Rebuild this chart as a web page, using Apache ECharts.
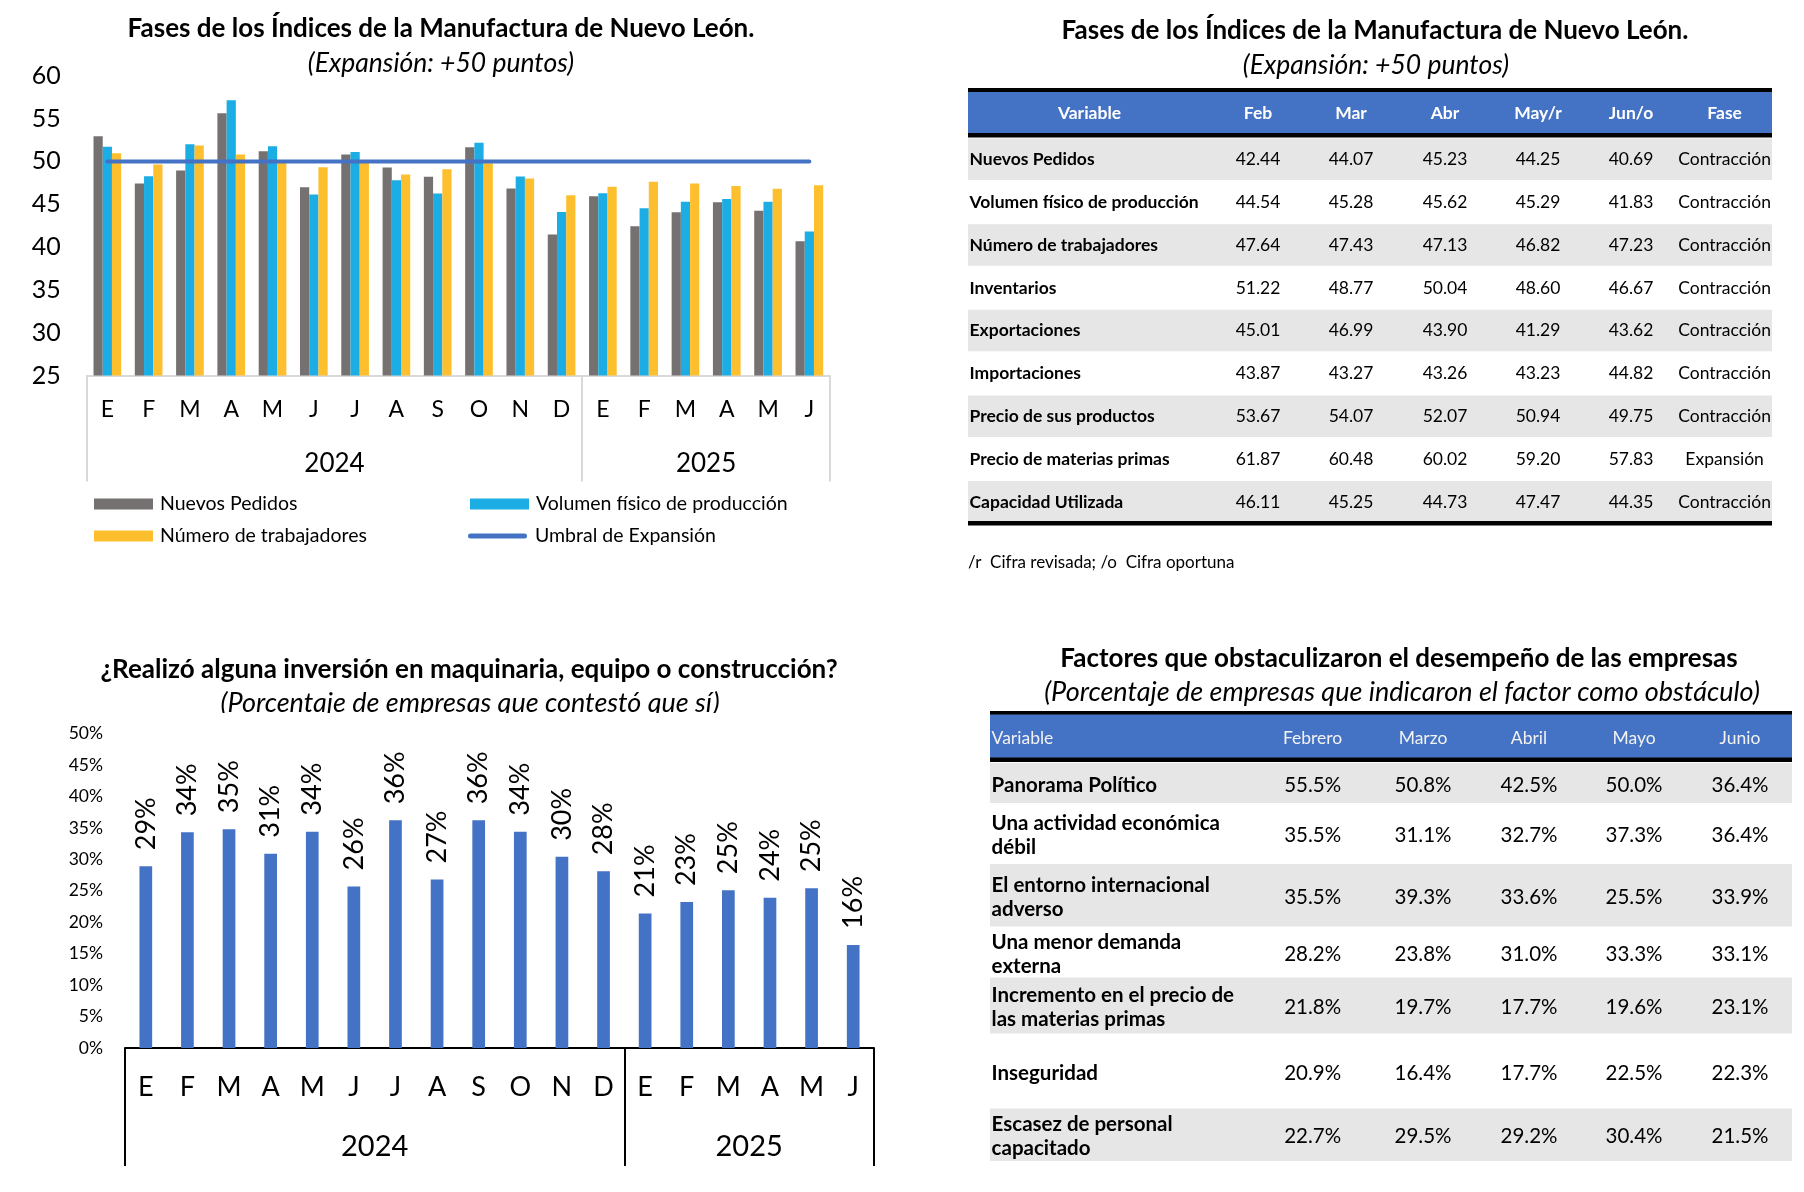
<!DOCTYPE html>
<html>
<head>
<meta charset="utf-8">
<script src="https://cdn.jsdelivr.net/npm/echarts@6/dist/echarts.min.js"></script>
<style>html,body{margin:0;padding:0;background:#fff}#c{width:1804px;height:1192px}</style>
</head>
<body>
<div id="c"></div>
<script>
// ---------- DATA ----------
const months = ['E','F','M','A','M','J','J','A','S','O','N','D','E','F','M','A','M','J'];
const years = ['2024','2025'];
const yearTickValues = [0, 12, 18];
const yearLabelValues = [6, 15];
const nuevosPedidos   = [52.94,47.42,48.94,55.63,51.19,46.99,50.80,49.29,48.20,51.66,46.84,41.47,45.94,42.44,44.07,45.23,44.25,40.69];
const volumenFisico   = [51.70,48.28,52.00,57.14,51.77,46.14,51.10,47.81,46.26,52.17,48.24,44.08,46.29,44.54,45.28,45.62,45.29,41.83];
const numTrabajadores = [50.96,49.64,51.85,50.80,49.90,49.33,49.90,48.47,49.09,49.80,48.00,46.06,47.03,47.64,47.43,47.13,46.82,47.23];
const umbralExpansion = [50,50,50,50,50,50,50,50,50,50,50,50,50,50,50,50,50,50];
const inversion = [28.9,34.3,34.8,30.9,34.4,25.7,36.2,26.8,36.2,34.4,30.4,28.1,21.4,23.2,25.1,23.9,25.4,16.4];

const t2Header = ['Variable','Feb','Mar','Abr','May/r','Jun/o','Fase'];
const t2Vars = ['Nuevos Pedidos','Volumen físico de producción','Número de trabajadores','Inventarios','Exportaciones','Importaciones','Precio de sus productos','Precio de materias primas','Capacidad Utilizada'];
const t2Values = [
  [42.44,44.07,45.23,44.25,40.69],
  [44.54,45.28,45.62,45.29,41.83],
  [47.64,47.43,47.13,46.82,47.23],
  [51.22,48.77,50.04,48.60,46.67],
  [45.01,46.99,43.90,41.29,43.62],
  [43.87,43.27,43.26,43.23,44.82],
  [53.67,54.07,52.07,50.94,49.75],
  [61.87,60.48,60.02,59.20,57.83],
  [46.11,45.25,44.73,47.47,44.35]
];
const t2Fase = ['Contracción','Contracción','Contracción','Contracción','Contracción','Contracción','Contracción','Expansión','Contracción'];
const t2Note = '/r  Cifra revisada; /o  Cifra oportuna';

const t4Header = ['Variable','Febrero','Marzo','Abril','Mayo','Junio'];
const t4Vars = ['Panorama Político','Una actividad económica\ndébil','El entorno internacional\nadverso','Una menor demanda\nexterna','Incremento en el precio de\nlas materias primas','Inseguridad','Escasez de personal\ncapacitado'];
const t4Values = [
  [55.5,50.8,42.5,50.0,36.4],
  [35.5,31.1,32.7,37.3,36.4],
  [35.5,39.3,33.6,25.5,33.9],
  [28.2,23.8,31.0,33.3,33.1],
  [21.8,19.7,17.7,19.6,23.1],
  [20.9,16.4,17.7,22.5,22.3],
  [22.7,29.5,29.2,30.4,21.5]
];

// ---------- LAYOUT / STYLE ----------
const FONT = 'Lato';
const BLUE = '#4472C4';
const GRAYBAND = '#E7E6E6';

function txt(x, y, text, size, o) {
  o = o || {};
  const st = {
    text: text, fontSize: size, fontFamily: FONT,
    fontWeight: o.bold ? 'bold' : 'normal',
    fontStyle: o.italic ? 'italic' : 'normal',
    fill: o.color || '#000',
    align: o.align || 'center', verticalAlign: 'middle',
    textAlign: o.align || 'center', textVerticalAlign: 'middle'
  };
  if (o.lineHeight) st.lineHeight = o.lineHeight;
  return { type: 'text', x: x, y: y, z: o.z || 10, silent: true, style: st };
}
function rect(x, y, w, h, fill, z) {
  return { type: 'rect', shape: { x: x, y: y, width: w, height: h }, style: { fill: fill }, z: z || 1, silent: true };
}

const graphics = [];
// Titles
graphics.push(txt(441, 29, 'Fases de los Índices de la Manufactura de Nuevo León.', 26, {bold: true}));
graphics.push(txt(441, 63.5, '(Expansión: +50 puntos)', 26.5, {italic: true}));
graphics.push(txt(1375, 31, 'Fases de los Índices de la Manufactura de Nuevo León.', 26, {bold: true}));
graphics.push(txt(1376, 65.5, '(Expansión: +50 puntos)', 26.5, {italic: true}));
graphics.push(txt(469, 670, '¿Realizó alguna inversión en maquinaria, equipo o construcción?', 26, {bold: true}));
graphics.push(txt(470, 703, '(Porcentaje de empresas que contestó que sí)', 27, {italic: true}));
graphics.push(rect(150, 713, 660, 10, '#fff', 30));
graphics.push(txt(1399, 659, 'Factores que obstaculizaron el desempeño de las empresas', 26, {bold: true}));
graphics.push(txt(1402, 692, '(Porcentaje de empresas que indicaron el factor como obstáculo)', 27, {italic: true}));

// Table 2 (top right)
(function () {
  const x0 = 968, w = 804;
  const colX = [1089.5, 1258, 1351, 1445, 1538, 1631, 1724.6];
  const labelX = 969.5;
  const firstRow = 159.6, rowStep = 42.8;
  graphics.push(rect(x0, 92, w, 41, BLUE, 1));
  graphics.push(rect(x0, 88, w, 4, '#000', 2));
  graphics.push(rect(x0, 133, w, 4.5, '#000', 2));
  t2Header.forEach(function (h, i) {
    graphics.push(txt(colX[i], 113, h, 17.5, {bold: true, color: '#fff'}));
  });
  t2Vars.forEach(function (v, r) {
    const cy = firstRow + r * rowStep;
    if (r % 2 === 0) graphics.push(rect(x0, cy - 21, w, 41.5, GRAYBAND, 1));
    graphics.push(txt(labelX, cy, v, 17.5, {bold: true, align: 'left'}));
    t2Values[r].forEach(function (val, c) {
      graphics.push(txt(colX[c + 1], cy, val.toFixed(2), 17.5));
    });
    graphics.push(txt(colX[6], cy, t2Fase[r], 17.5));
  });
  graphics.push(rect(x0, 521, w, 4.5, '#000', 2));
  graphics.push(txt(968, 563, t2Note, 17, {align: 'left'}));
})();

// Table 4 (bottom right)
(function () {
  const x0 = 990, w = 802;
  const colX = [991.6, 1312.6, 1423, 1529, 1634, 1740];
  const rowEdges = [763, 803, 864, 926.4, 977.6, 1033.4, 1108.5, 1161];
  graphics.push(rect(x0, 714, w, 44, BLUE, 1));
  graphics.push(rect(x0, 711, w, 3.5, '#000', 2));
  graphics.push(rect(x0, 757.5, w, 4.5, '#000', 2));
  t4Header.forEach(function (h, i) {
    graphics.push(txt(colX[i], 738.5, h, 17.5, {color: '#f2f2f2', align: i === 0 ? 'left' : 'center'}));
  });
  t4Vars.forEach(function (v, r) {
    const top = rowEdges[r], bot = rowEdges[r + 1];
    const cy = (top + bot) / 2 + 2;
    if (r % 2 === 0) graphics.push(rect(x0, top, w, bot - top, GRAYBAND, 1));
    graphics.push(txt(colX[0], cy, v, 20.5, {bold: true, align: 'left', lineHeight: 24}));
    t4Values[r].forEach(function (val, c) {
      graphics.push(txt(colX[c + 1], cy, val.toFixed(1) + '%', 20.5));
    });
  });
})();

// ---------- CHART ----------
const chart = echarts.init(document.getElementById('c'), null, {renderer: 'canvas'});
const legendCommon = {
  orient: 'horizontal', padding: 0, itemWidth: 59, itemHeight: 11, itemGap: 0,
  selectedMode: false,
  textStyle: {fontSize: 19.5, fontFamily: FONT, color: '#000', padding: [0, 0, 0, 2]}
};
const lineIcon = 'path://M2.5,0 L56.5,0 A2.5,2.5 0 0 1 56.5,5 L2.5,5 A2.5,2.5 0 0 1 2.5,0 Z';
const option = {
  animation: false,
  backgroundColor: '#fff',
  textStyle: {fontFamily: FONT},
  grid: [
    {left: 86.7, right: 974, top: 75.8, bottom: 816.5},
    {left: 125, right: 930, top: 733.6, bottom: 144}
  ],
  legend: [
    Object.assign({}, legendCommon, {data: [{name: 'Nuevos Pedidos', icon: 'rect'}], left: 94, top: 494}),
    Object.assign({}, legendCommon, {data: [{name: 'Volumen físico de producción', icon: 'rect'}], left: 470, top: 494}),
    Object.assign({}, legendCommon, {data: [{name: 'Número de trabajadores', icon: 'rect'}], left: 94, top: 526}),
    Object.assign({}, legendCommon, {data: [{name: 'Umbral de Expansión', icon: lineIcon}], left: 468, top: 526, itemWidth: 61, itemHeight: 5})
  ],
  xAxis: [
    {gridIndex: 0, type: 'category', data: months,
     axisLine: {lineStyle: {color: '#d9d9d9', width: 2}}, axisTick: {show: false},
     axisLabel: {interval: 0, margin: 23, fontSize: 23, color: '#000', fontFamily: FONT}},
    {gridIndex: 0, type: 'value', min: 0, max: 18, position: 'bottom',
     axisLine: {show: false}, splitLine: {show: false},
     axisTick: {show: true, customValues: yearTickValues, length: 106, lineStyle: {color: '#d9d9d9', width: 2}},
     axisLabel: {customValues: yearLabelValues, formatter: function (v) { return v < 12 ? years[0] : years[1]; },
                 margin: 75, fontSize: 26, color: '#000', fontFamily: FONT}},
    {gridIndex: 1, type: 'category', data: months,
     axisLine: {lineStyle: {color: '#000', width: 2}}, axisTick: {show: false},
     axisLabel: {interval: 0, margin: 26, fontSize: 27, color: '#000', fontFamily: FONT}},
    {gridIndex: 1, type: 'value', min: 0, max: 18, position: 'bottom',
     axisLine: {show: false}, splitLine: {show: false},
     axisTick: {show: true, customValues: yearTickValues, length: 118, lineStyle: {color: '#000', width: 2}},
     axisLabel: {customValues: yearLabelValues, formatter: function (v) { return v < 12 ? years[0] : years[1]; },
                 margin: 84, fontSize: 29, color: '#000', fontFamily: FONT}}
  ],
  yAxis: [
    {gridIndex: 0, type: 'value', min: 25, max: 60, interval: 5,
     axisLine: {show: false}, axisTick: {show: false}, splitLine: {show: false},
     axisLabel: {margin: 26, fontSize: 25, color: '#000', fontFamily: FONT}},
    {gridIndex: 1, type: 'value', min: 0, max: 50, interval: 5,
     axisLine: {show: false}, axisTick: {show: false}, splitLine: {show: false},
     axisLabel: {margin: 22, fontSize: 17.5, color: '#000', fontFamily: FONT, formatter: '{value}%'}}
  ],
  series: [
    {name: 'Nuevos Pedidos', type: 'bar', xAxisIndex: 0, yAxisIndex: 0, data: nuevosPedidos,
     barGap: '0%', barCategoryGap: '33%', itemStyle: {color: '#767171'}},
    {name: 'Volumen físico de producción', type: 'bar', xAxisIndex: 0, yAxisIndex: 0, data: volumenFisico,
     barGap: '0%', barCategoryGap: '33%', itemStyle: {color: '#1CADE4'}},
    {name: 'Número de trabajadores', type: 'bar', xAxisIndex: 0, yAxisIndex: 0, data: numTrabajadores,
     barGap: '0%', barCategoryGap: '33%', itemStyle: {color: '#FEBF2F'}},
    {name: 'Umbral de Expansión', type: 'line', xAxisIndex: 0, yAxisIndex: 0, data: umbralExpansion,
     symbol: 'none', z: 5, lineStyle: {color: BLUE, width: 4, cap: 'round'}, itemStyle: {color: BLUE}},
    {name: 'Inversión', type: 'bar', xAxisIndex: 2, yAxisIndex: 1, data: inversion, barWidth: 12.7,
     itemStyle: {color: BLUE},
     label: {show: true, position: 'top', rotate: 90, align: 'left', verticalAlign: 'middle', distance: 16,
             formatter: function (p) { return Math.round(p.value) + '%'; },
             fontSize: 27, fontFamily: FONT, color: '#000'}}
  ],
  graphic: {elements: graphics}
};
chart.setOption(option);
</script>
</body>
</html>
